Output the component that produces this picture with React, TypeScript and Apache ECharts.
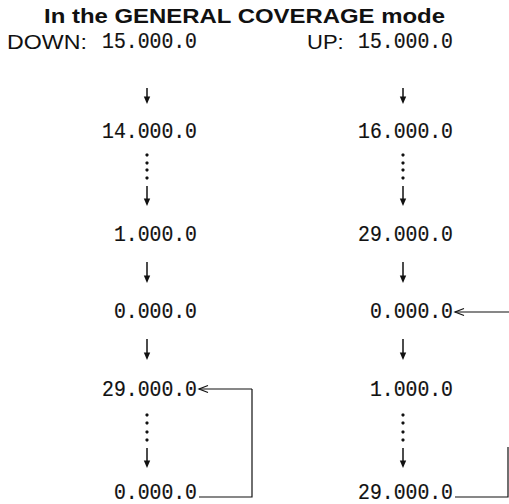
import React, { useEffect, useRef } from "react";
import * as echarts from "echarts";

// ---- content ----
const titleText = "In the GENERAL COVERAGE mode";
const downLabel = "DOWN:";
const upLabel = "UP:";
const downSequence = ["15.000.0", "14.000.0", "1.000.0", "0.000.0", "29.000.0", "0.000.0"];
const upSequence = ["15.000.0", "16.000.0", "29.000.0", "0.000.0", "1.000.0", "29.000.0"];
// kind of step between consecutive rows: "direct" arrow or "skip" (dotted, then arrow)
const stepKinds = ["direct", "skip", "direct", "direct", "skip"];

// ---- layout ----
const W = 509;
const H = 504;
const rowY = [42, 132, 235, 312, 390, 493];
const stepSpans = [
  [88, 104],
  [186, 206],
  [262, 283],
  [339, 360],
  [448, 468],
];
const dotYs = [
  [],
  [155, 163, 170, 178],
  [],
  [],
  [415, 423, 432, 440],
];
const colArrowX = [147, 403];
const colRightEdge = [197, 453];
const INK = "#111";

function arrowDown(x: number, y1: number, y2: number) {
  return [
    { type: "line", shape: { x1: x, y1, x2: x, y2: y2 - 5 }, style: { stroke: INK, lineWidth: 1.5 } },
    {
      type: "polygon",
      shape: { points: [[x - 3.2, y2 - 7.5], [x + 3.2, y2 - 7.5], [x, y2]] },
      style: { fill: INK },
    },
  ];
}

function arrowLeftOpen(xTip: number, y: number, xEnd: number) {
  return [
    { type: "line", shape: { x1: xTip, y1: y, x2: xEnd, y2: y }, style: { stroke: INK, lineWidth: 1.2 } },
    { type: "polyline", shape: { points: [[xTip + 9, y - 3.5], [xTip, y], [xTip + 9, y + 3.5]] }, style: { stroke: INK, lineWidth: 1.2, fill: "none" } },
  ];
}

const numStyle = {
  align: "right",
  verticalAlign: "middle",
  fill: INK,
  stroke: INK,
  lineWidth: 0.2,
  fontFamily: "Liberation Mono",
  fontSize: 22,
};

export default function App() {
  const ref = useRef<HTMLDivElement>(null);
  useEffect(() => {
    if (!ref.current) return;
    const chart = echarts.init(ref.current, null, { renderer: "svg" });
    const els: any[] = [];
    els.push({
      type: "text",
      x: 244.5,
      y: 16,
      scaleX: 1.14,
      style: {
        text: titleText,
        align: "center",
        verticalAlign: "middle",
        fill: INK,
        fontFamily: "Liberation Sans",
        fontWeight: "bold",
        fontSize: 21,
      },
    });
    els.push({
      type: "text",
      x: 7,
      y: rowY[0],
      scaleX: 1.16,
      style: { text: downLabel, align: "left", verticalAlign: "middle", fill: INK, fontFamily: "Liberation Sans", fontSize: 20 },
    });
    els.push({
      type: "text",
      x: 307,
      y: rowY[0],
      scaleX: 1.1,
      style: { text: upLabel, align: "left", verticalAlign: "middle", fill: INK, fontFamily: "Liberation Sans", fontSize: 20 },
    });
    [downSequence, upSequence].forEach((seq, c) => {
      seq.forEach((v, i) => {
        els.push({
          type: "text",
          x: colRightEdge[c],
          y: rowY[i],
          scaleX: 0.9,
          style: { ...numStyle, text: v },
        });
      });
      stepKinds.forEach((k, i) => {
        const x = colArrowX[c];
        if (k === "skip") {
          dotYs[i].forEach((dy) => {
            els.push({ type: "circle", shape: { cx: x, cy: dy, r: 1.6 }, style: { fill: INK } });
          });
        }
        els.push(...arrowDown(x, stepSpans[i][0], stepSpans[i][1]));
      });
    });
    // left wrap-around connector: bottom 0.000.0 back to 29.000.0
    els.push(...arrowLeftOpen(199, rowY[4] - 1, 252));
    els.push({ type: "polyline", shape: { points: [[252, rowY[4] - 1], [252, 497], [199, 497]] }, style: { stroke: INK, lineWidth: 1.2, fill: "none" } });
    // right wrap-around connector (runs off the right edge)
    els.push(...arrowLeftOpen(455, rowY[3], 510));
    els.push({ type: "polyline", shape: { points: [[508, 447], [508, 497], [455, 497]] }, style: { stroke: INK, lineWidth: 1.2, fill: "none" } });

    chart.setOption({
      animation: false,
      backgroundColor: "#ffffff",
      graphic: { elements: els },
    });
    return () => chart.dispose();
  }, []);
  return <div ref={ref} style={{ position: "fixed", left: 0, top: 0, width: W, height: H }} />;
}
